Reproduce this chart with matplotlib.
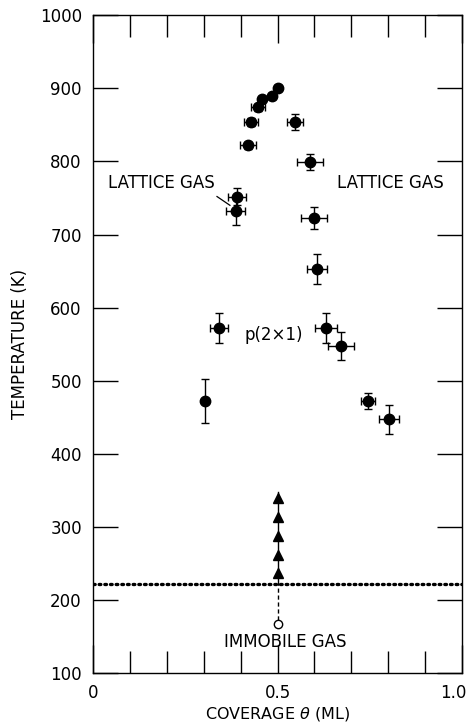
import matplotlib.pyplot as plt
import matplotlib.transforms as mtransforms
import numpy as np

# phase boundary points (coverage in ML, temperature in K)
theta = [0.500, 0.485, 0.458, 0.447, 0.428, 0.547, 0.420, 0.588, 0.390, 0.387,
         0.599, 0.607, 0.341, 0.631, 0.672, 0.304, 0.745, 0.802]
temp = [900, 889, 886, 874, 854, 854, 822, 799, 752, 732,
        722, 653, 572, 572, 547, 472, 472, 447]
theta_err = [0.008, 0.008, 0.008, 0.019, 0.02, 0.022, 0.022, 0.034, 0.024, 0.026,
             0.036, 0.027, 0.024, 0.029, 0.034, 0.004, 0.02, 0.026]
temp_err = [4, 4, 4, 5, 5, 11, 5, 11, 11, 19,
            15, 20, 20, 20, 19, 30, 11, 20]

# immobile gas / onset markers at 0.5 ML
arrow_T = [237, 261, 287, 313, 339]
arrow_top = 348
onset_T = 222
immobile_T = 167

fig = plt.figure(figsize=(4.72, 7.28), dpi=100)
ax = fig.add_axes([0.197, 0.0755, 0.782, 0.9035])

plt.rcParams['font.family'] = ['DejaVu Sans']

ax.errorbar(theta, temp, xerr=theta_err, yerr=temp_err, fmt='o', color='black',
            markersize=7.5, elinewidth=1.0, capsize=3, capthick=1.0)

# dotted onset line
ax.plot([0.0, 1.0], [onset_T, onset_T], linestyle=(0, (0.5, 1.2)), color='black',
        linewidth=2.4, dash_capstyle='round')

# arrows
ax.plot([0.5, 0.5], [onset_T, arrow_top], color='black', linewidth=1.0)
ax.plot([0.5] * len(arrow_T), arrow_T, linestyle='none', marker='^', color='black',
        markersize=7)
ax.plot([0.5, 0.5], [immobile_T + 5, onset_T], color='black', linewidth=1.0,
        linestyle=(0, (3, 2)))
ax.plot([0.5], [immobile_T], marker='o', markerfacecolor='white', markeredgecolor='black',
        markersize=6, markeredgewidth=1.0)

# labels
ax.text(0.04, 770, 'LATTICE GAS', fontsize=12, ha='left', va='center')
ax.text(0.66, 770, 'LATTICE GAS', fontsize=12, ha='left', va='center')
ax.text(0.49, 562, 'p(2\u00d71)', fontsize=12, ha='center', va='center')
ax.text(0.52, 142, 'IMMOBILE GAS', fontsize=12, ha='center', va='center')
ax.plot([0.336, 0.371], [752, 740], color='black', linewidth=0.9)

ax.set_xlim(0, 1.0)
ax.set_ylim(100, 1000)
ax.set_xticks([0, 0.5, 1.0])
ax.set_xticklabels(['0', '0.5', '1.0'])
ax.set_xticks(np.arange(0.1, 1.0, 0.1), minor=True)
ax.set_yticks(np.arange(100, 1001, 100))
ax.tick_params(axis='x', which='major', direction='in', length=20, width=1.0,
               top=True, labelsize=12, pad=8)
ax.tick_params(axis='x', which='minor', direction='in', length=16, width=1.0, top=True)
ax.tick_params(axis='y', which='major', direction='in', length=18, width=1.0,
               right=True, labelsize=12, pad=8)
for s in ax.spines.values():
    s.set_linewidth(1.0)

# keep the last x label inside the figure
last = ax.get_xticklabels()[-1]
last.set_transform(last.get_transform() +
                   mtransforms.ScaledTranslation(-6 / 72, 0, fig.dpi_scale_trans))

ax.set_xlabel('COVERAGE $\\theta$ (ML)', fontsize=11.5, labelpad=2)
ax.set_ylabel('TEMPERATURE (K)', fontsize=12, labelpad=8)

fig.savefig('out.png', dpi=100)
